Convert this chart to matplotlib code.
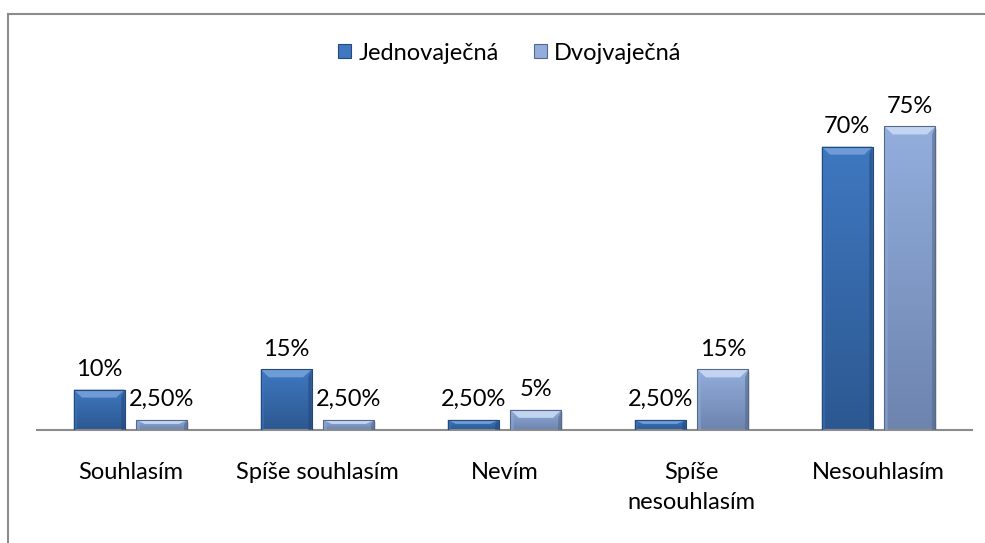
import numpy as np
import matplotlib
matplotlib.use("Agg")
import matplotlib.pyplot as plt
from matplotlib.patches import Polygon, Rectangle
from matplotlib.lines import Line2D
from matplotlib.colors import LinearSegmentedColormap

plt.rcParams["font.family"] = ["Lato", "DejaVu Sans"]

# ── data ─────────────────────────────────────────────
categories = ["Souhlasím", "Spíše souhlasím", "Nevím", "Spíše\nnesouhlasím", "Nesouhlasím"]
series_names = ["Jednovaječná", "Dvojvaječná"]
jedno = [10, 15, 2.5, 2.5, 70]
dvoj = [2.5, 2.5, 5, 15, 75]

# colours: (top, bottom, bevel light, edge dark)
styles = [
    ("#3F78C0", "#2C5891", "#6F9BD6", "#24497A"),
    ("#93AEDD", "#6C84AE", "#C2D4F0", "#56698C"),
]


def pct(v):
    if float(v).is_integer():
        return f"{v:.0f}%"
    return f"{v:.2f}%".replace(".", ",")


FS = 17

fig = plt.figure(figsize=(9.85, 5.43), dpi=100)
W, H = 985, 543
ax = fig.add_axes([37 / W, (H - 430) / H, (972 - 37) / W, (430 - 100) / H])
ax.set_xlim(-0.5, len(categories) - 0.5)
ax.set_ylim(0, 81.5)

# outer chart frame (only top + left visible in the crop)
fig.add_artist(Line2D([8 / W, 8 / W], [0, 1 - 14 / H], color="#8C8C8C", lw=1.5))
fig.add_artist(Line2D([8 / W, 1], [1 - 14 / H, 1 - 14 / H], color="#8C8C8C", lw=1.5))

x = np.arange(len(categories))
bw = 0.273
off = 0.168


def draw_bevel_bar(rect, st):
    top, bot, light, dark = st
    x0, w, h = rect.get_x(), rect.get_width(), rect.get_height()
    # shadow
    ax.add_patch(Rectangle((x0 + 0.008, -0.6), w, h, color="#000000", alpha=0.12, zorder=1, lw=0))
    cmap = LinearSegmentedColormap.from_list("g", [bot, top])
    grad = np.linspace(0, 1, 64).reshape(-1, 1)
    im = ax.imshow(grad, extent=(x0, x0 + w, 0, h), origin="lower", cmap=cmap,
                   aspect="auto", zorder=2)
    im.set_clip_path(rect)
    dx = 0.045
    ds = 0.018
    dy = min(2.0, h * 0.4)
    # top bevel
    ax.add_patch(Polygon([(x0, h), (x0 + w, h), (x0 + w - dx, h - dy), (x0 + dx, h - dy)],
                         closed=True, color=light, lw=0, zorder=3))
    # thin side edges
    ax.add_patch(Polygon([(x0, h), (x0 + ds, h - dy), (x0 + ds, 0), (x0, 0)],
                         closed=True, color=top, alpha=0.5, lw=0, zorder=3))
    ax.add_patch(Polygon([(x0 + w, h), (x0 + w - ds, h - dy), (x0 + w - ds, 0), (x0 + w, 0)],
                         closed=True, color=dark, alpha=0.6, lw=0, zorder=3))
    ax.add_patch(Rectangle((x0, 0), w, h, fill=False, ec=dark, lw=0.8, zorder=4))


handles = []
for vals, pos, st, name in [(jedno, x - off, styles[0], series_names[0]),
                            (dvoj, x + off, styles[1], series_names[1])]:
    bars = ax.bar(pos, vals, width=bw, color="none", lw=0, zorder=2)
    for rect, v in zip(bars, vals):
        draw_bevel_bar(rect, st)
        ax.annotate(pct(v), (rect.get_x() + rect.get_width() / 2, rect.get_height()),
                    xytext=(0, 7), textcoords="offset points", ha="center", va="bottom",
                    fontsize=FS, color="#000000")
    handles.append(Rectangle((0, 0), 1, 1, fc=st[0], ec=st[3], lw=0.8, label=name))

for s in ["top", "right", "left"]:
    ax.spines[s].set_visible(False)
ax.spines["bottom"].set_color("#8C8C8C")
ax.spines["bottom"].set_linewidth(1.5)
ax.set_yticks([])
ax.set_xticks(x)
ax.set_xticklabels(categories, fontsize=FS, va="top", linespacing=1.55)
ax.tick_params(axis="x", length=0, pad=23)

fig.legend(handles=handles, loc="center", bbox_to_anchor=(510 / W, 1 - 53 / H), ncol=2,
           frameon=False, fontsize=FS, handlelength=0.55, handleheight=0.55,
           handletextpad=0.3, columnspacing=1.5)

fig.savefig("out.png", dpi=100)
